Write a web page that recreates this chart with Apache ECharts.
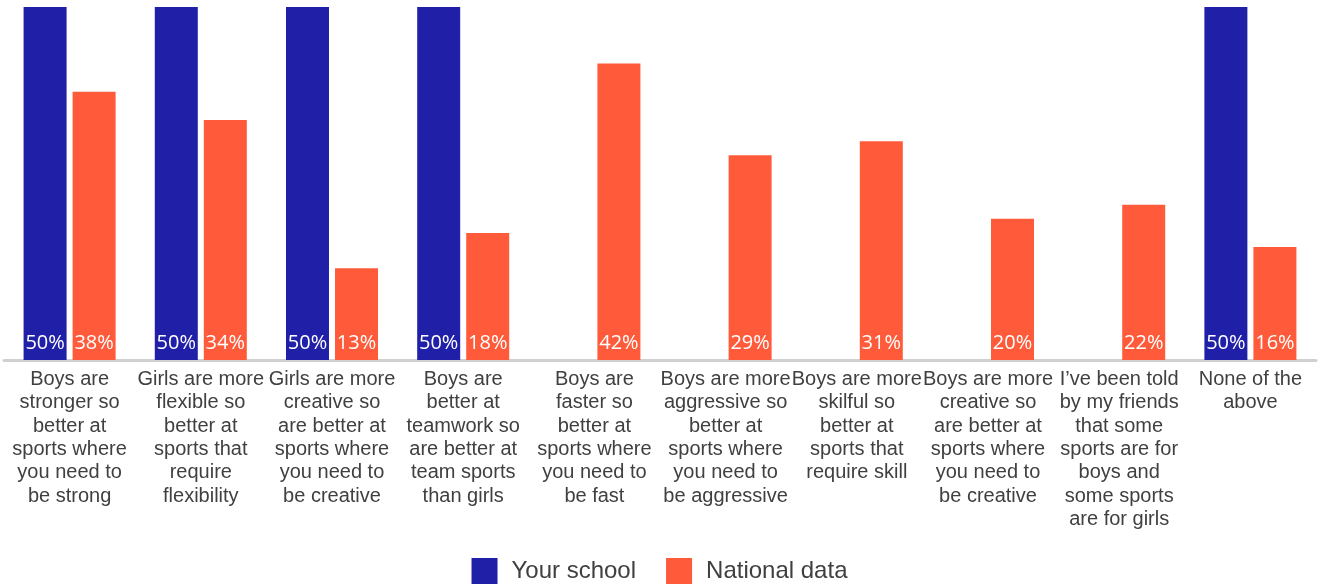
<!DOCTYPE html>
<html>
<head>
<meta charset="utf-8">
<script src="https://cdn.jsdelivr.net/npm/echarts@6/dist/echarts.min.js"></script>
<style>
  html, body { margin: 0; padding: 0; background: #fff; }
  #chart { width: 1319px; height: 584px; }
</style>
</head>
<body>
<div id="chart"></div>
<script>
// Survey statements, pre-wrapped to fit each category slot
const categories = [
  'Boys are\nstronger so\nbetter at\nsports where\nyou need to\nbe strong',
  'Girls are more\nflexible so\nbetter at\nsports that\nrequire\nflexibility',
  'Girls are more\ncreative so\nare better at\nsports where\nyou need to\nbe creative',
  'Boys are\nbetter at\nteamwork so\nare better at\nteam sports\nthan girls',
  'Boys are\nfaster so\nbetter at\nsports where\nyou need to\nbe fast',
  'Boys are more\naggressive so\nbetter at\nsports where\nyou need to\nbe aggressive',
  'Boys are more\nskilful so\nbetter at\nsports that\nrequire skill',
  'Boys are more\ncreative so\nare better at\nsports where\nyou need to\nbe creative',
  'I\u2019ve been told\nby my friends\nthat some\nsports are for\nboys and\nsome sports\nare for girls',
  'None of the\nabove'
];

// Percentages per statement
const yourSchool   = [50, 50, 50, 50, 0, 0, 0, 0, 0, 50];
const nationalData = [38, 34, 13, 18, 42, 29, 31, 20, 22, 16];

const chart = echarts.init(document.getElementById('chart'));

const valueLabel = {
  show: true,
  position: 'insideBottom',
  distance: 7,
  color: '#ffffff',
  fontFamily: 'Open Sans',
  fontSize: 20,
  formatter: p => (p.value ? p.value + '%' : '')
};

chart.setOption({
  animation: false,
  grid: { left: 4, right: 3, top: 7, bottom: 224, containLabel: false },
  legend: {
    data: ['Your school', 'National data'],
    left: 'center',
    top: 553,
    itemWidth: 26,
    itemHeight: 26,
    itemGap: 30,
    icon: 'rect',
    textStyle: {
      color: '#404040',
      fontFamily: 'Liberation Sans',
      fontSize: 24,
      padding: [0, 0, 0, 9]
    }
  },
  xAxis: {
    type: 'category',
    data: categories,
    axisLine: { show: true, lineStyle: { color: '#d0d0d0', width: 3 } },
    axisTick: { show: false },
    axisLabel: {
      interval: 0,
      color: '#404040',
      fontFamily: 'Liberation Sans',
      fontSize: 20,
      lineHeight: 23.3,
      margin: 8
    }
  },
  yAxis: {
    type: 'value',
    min: 0,
    max: 50,
    show: false,
    splitLine: { show: false }
  },
  series: [
    {
      name: 'Your school',
      type: 'bar',
      data: yourSchool,
      barWidth: 43,
      barGap: '14%',
      itemStyle: { color: '#1f1fa8' },
      label: valueLabel
    },
    {
      name: 'National data',
      type: 'bar',
      data: nationalData,
      barWidth: 43,
      itemStyle: { color: '#ff5b3a' },
      label: valueLabel
    }
  ]
});
</script>
</body>
</html>
